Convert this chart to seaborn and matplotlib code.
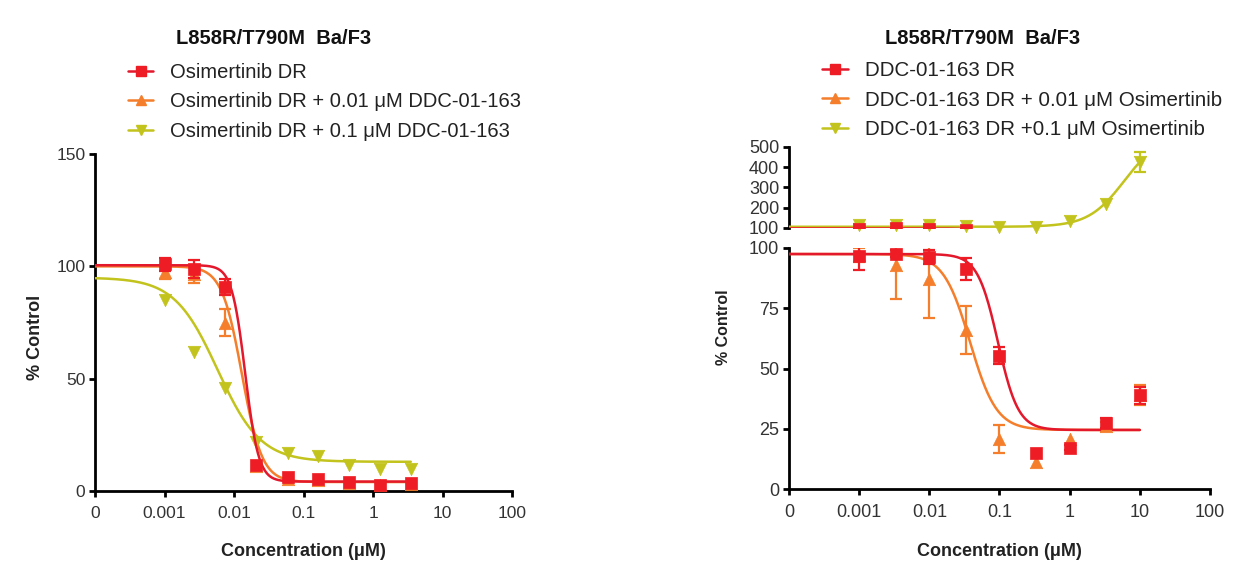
import numpy as np
import pandas as pd
import matplotlib
matplotlib.use("Agg")
import matplotlib.pyplot as plt
from matplotlib.lines import Line2D
import seaborn as sns

# ---------------- data ----------------
title = "L858R/T790M  Ba/F3"
xtick_vals = [1e-4, 1e-3, 1e-2, 1e-1, 1, 10, 100]
xtick_labels = ["0", "0.001", "0.01", "0.1", "1", "10", "100"]

# Left panel: Osimertinib dose response
left_names = ["Osimertinib DR",
              "Osimertinib DR + 0.01 \u03bcM DDC-01-163",
              "Osimertinib DR + 0.1 \u03bcM DDC-01-163"]
left_x = [0.001, 0.0027, 0.0075, 0.021, 0.059, 0.16, 0.45, 1.25, 3.5]
left_red = [100.9, 99.0, 90.8, 11.6, 6.4, 5.3, 3.9, 2.7, 3.4]
left_red_err = [3.0, 4.0, 3.7, 0, 0, 0, 0, 0, 0]
left_orange = [97.5, 96.7, 75.0, 11.0, 5.5, 4.8, 3.6, 2.6, 3.2]
left_orange_err = [3.0, 4.0, 6.0, 0, 0, 0, 0, 0, 0]
left_yellow = [85.0, 62.0, 46.0, 22.0, 17.0, 15.5, 11.6, 10.0, 10.0]
left_yellow_err = [0, 0, 0, 0, 0, 0, 0, 0, 0]
# fitted 4PL curves: top, bottom, IC50, hill
left_fit_red = [100.5, 4.2, 0.0145, 4.5]
left_fit_orange = [100.0, 4.0, 0.013, 3.0]
left_fit_yellow = [95.0, 13.0, 0.0058, 1.4]

# Right panel: DDC-01-163 dose response
right_names = ["DDC-01-163 DR",
               "DDC-01-163 DR + 0.01 \u03bcM Osimertinib",
               "DDC-01-163 DR +0.1 \u03bcM Osimertinib"]
right_x = [0.001, 0.00333, 0.01, 0.0333, 0.1, 0.333, 1, 3.33, 10]
right_red = [96.5, 97.6, 96.3, 91.3, 55.3, 15.0, 17.2, 27.4, 38.9]
right_red_err = [5.5, 1.5, 3.0, 4.5, 3.5, 0, 1.2, 2.0, 3.5]
right_orange = [97.0, 93.0, 87.0, 66.0, 20.7, 11.1, 20.9, 26.0, 39.0]
right_orange_err = [3.0, 14.0, 16.0, 9.8, 5.7, 0, 0, 2.0, 4.0]
right_yellow = [113, 113, 113, 108, 105, 105, 135, 217, 426]
right_yellow_err = [8, 8, 8, 0, 0, 0, 0, 0, 50]
right_fit_red = [97.5, 24.5, 0.095, 3.0]
right_fit_orange = [97.5, 24.5, 0.038, 2.3]
right_fit_yellow = [106.0, 560.0, 6.0, 1.7]   # bottom, top, EC50, hill (rising)

colors = ["#EE1D25", "#F47E2B", "#C3C31D"]
curve_colors = ["#E3182C", "#F47E2B", "#C3C31D"]
markers = ["s", "^", "v"]

# ---------------- style ----------------
sns.set_style("ticks")
plt.rcParams["font.family"] = ["Liberation Sans", "DejaVu Sans"]
TICK_COLOR = "#333333"

W, H = 1254, 576
fig = plt.figure(figsize=(W / 100, H / 100), dpi=100)


def fax(l, t, r, b):
    return fig.add_axes([l / W, 1 - b / H, (r - l) / W, (b - t) / H])


def fall(params, x):
    top, bot, ic50, h = params
    return bot + (top - bot) / (1 + (x / ic50) ** h)


def rise(params, x):
    bot, top, ec50, h = params
    return bot + (top - bot) / (1 + (ec50 / x) ** h)


def style_axis(ax, show_x=True, fs=12.5):
    for s in ["top", "right"]:
        ax.spines[s].set_visible(False)
    ax.spines["left"].set_linewidth(2.0)
    ax.spines["left"].set_color("black")
    if show_x:
        ax.spines["bottom"].set_linewidth(2.0)
        ax.spines["bottom"].set_color("black")
    else:
        ax.spines["bottom"].set_visible(False)
    ax.tick_params(axis="both", which="major", direction="out", length=4.5,
                   width=2.0, color="black", labelsize=fs, labelcolor=TICK_COLOR)
    ax.tick_params(axis="x", pad=6.5)
    ax.tick_params(axis="y", pad=2.5)
    ax.tick_params(axis="both", which="minor", length=0)
    ax.set_xscale("log")
    ax.set_xlim(1e-4, 100)
    if show_x:
        ax.set_xticks(xtick_vals)
        ax.set_xticklabels(xtick_labels)
    else:
        ax.set_xticks([])
    ax.xaxis.set_minor_locator(matplotlib.ticker.NullLocator())


def plot_series(ax, x, ys, errs, fits, kinds, xmax, clip=True, order=(2, 1, 0)):
    for i in order:
        xc = np.logspace(-4, np.log10(xmax), 400)
        yc = fall(fits[i], xc) if kinds[i] == "fall" else rise(fits[i], xc)
        sns.lineplot(x=xc, y=yc, ax=ax, color=curve_colors[i], lw=1.8,
                     zorder=2 + (3 - i), legend=False)
        xe = np.array(x)
        ye = np.array(ys[i], dtype=float)
        ee = np.array(errs[i], dtype=float)
        m = ee > 0
        if m.any():
            ax.errorbar(xe[m], ye[m], yerr=ee[m], fmt="none", ecolor=colors[i],
                        elinewidth=1.6, capsize=4, capthick=1.6,
                        zorder=3 + (3 - i), clip_on=clip)
        df = pd.DataFrame({"x": x, "y": ys[i]})
        sns.scatterplot(data=df, x="x", y="y", ax=ax, marker=markers[i],
                        color=colors[i], s=75 if markers[i] == "s" else 80,
                        edgecolor=colors[i], linewidth=0.5,
                        zorder=4 + (3 - i), legend=False, clip_on=clip)


def legend(anchor_fig, names, fs):
    handles = [Line2D([], [], color=curve_colors[i], marker=markers[i], lw=1.8,
                      markersize=7, markerfacecolor=colors[i],
                      markeredgecolor=colors[i]) for i in range(3)]
    fig.legend(handles, names, loc="upper left",
               bbox_to_anchor=(anchor_fig[0] / W, 1 - anchor_fig[1] / H),
               frameon=False, fontsize=fs, handlelength=1.25,
               handletextpad=0.85, labelspacing=0.52, borderpad=0,
               borderaxespad=0)
    for t in fig.legends[-1].get_texts():
        t.set_color("#222222")


# ---------------- left panel ----------------
axL = fax(95, 154, 512, 491)
plot_series(axL, left_x, [left_red, left_orange, left_yellow],
            [left_red_err, left_orange_err, left_yellow_err],
            [left_fit_red, left_fit_orange, left_fit_yellow],
            ["fall", "fall", "fall"], xmax=3.5)
style_axis(axL)
axL.set_ylim(0, 150)
axL.set_yticks([0, 50, 100, 150])
axL.set_xlabel("")
axL.set_ylabel("")
fig.text(35 / W, 1 - 337 / H, "% Control", rotation=90, ha="center", va="center",
         fontsize=13, fontweight="bold", color="#222222")
fig.text(303 / W, 1 - 552 / H, "Concentration (\u03bcM)", ha="center", va="center",
         fontsize=13, fontweight="bold", color="#222222")
fig.text(274 / W, 1 - 38 / H, title, ha="center", va="center",
         fontsize=14.5, fontweight="bold", color="#111111")
legend((128, 63), left_names, 14.5)

# ---------------- right panel (broken y axis) ----------------
axRt = fax(789, 147, 1210, 228)
axRb = fax(789, 248, 1210, 489)
ys_r = [right_red, right_orange, right_yellow]
errs_r = [right_red_err, right_orange_err, right_yellow_err]
fits_r = [right_fit_red, right_fit_orange, right_fit_yellow]
kinds_r = ["fall", "fall", "rise"]

plot_series(axRb, right_x, ys_r, errs_r, fits_r, kinds_r, xmax=10)
plot_series(axRt, right_x, ys_r, errs_r, fits_r, kinds_r, xmax=10,
            order=(1, 0))
plot_series(axRt, right_x, ys_r, errs_r, fits_r, kinds_r, xmax=10,
            clip=False, order=(2,))

style_axis(axRb, fs=13)
style_axis(axRt, show_x=False, fs=13)
axRb.set_ylim(0, 100)
axRb.set_yticks([0, 25, 50, 75, 100])
axRt.set_ylim(100, 500)
axRt.set_yticks([100, 200, 300, 400, 500])
for a in (axRb, axRt):
    a.set_xlabel("")
    a.set_ylabel("")
fig.text(723 / W, 1 - 327 / H, "% Control", rotation=90, ha="center", va="center",
         fontsize=11.5, fontweight="bold", color="#222222")
fig.text(999 / W, 1 - 552 / H, "Concentration (\u03bcM)", ha="center", va="center",
         fontsize=13, fontweight="bold", color="#222222")
fig.text(983 / W, 1 - 38 / H, title, ha="center", va="center",
         fontsize=14.5, fontweight="bold", color="#111111")
legend((822, 61), right_names, 14.8)

fig.savefig("out.png", dpi=100, facecolor="white")
